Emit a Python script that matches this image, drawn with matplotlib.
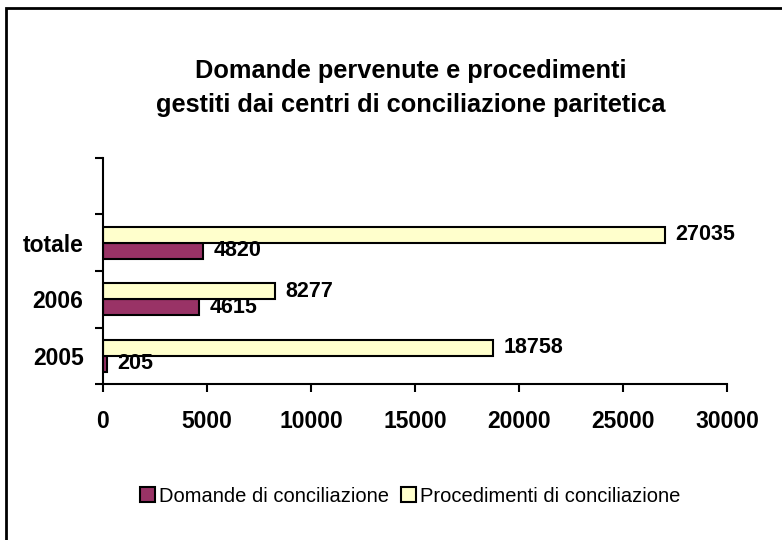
import matplotlib
matplotlib.use("Agg")
import matplotlib.pyplot as plt
from matplotlib.patches import Rectangle
import numpy as np

categories = ["2005", "2006", "totale", ""]
domande = [205, 4615, 4820]
procedimenti = [18758, 8277, 27035]
series_names = ["Domande di conciliazione", "Procedimenti di conciliazione"]
xticks = [0, 5000, 10000, 15000, 20000, 25000, 30000]

plt.rcParams['font.family'] = ['Liberation Sans', 'DejaVu Sans']

W, H = 782, 540
fig = plt.figure(figsize=(W / 100, H / 100), dpi=100)
fig.patch.set_facecolor("white")

# figure frame (open at right and bottom like the reference)
fig.add_artist(Rectangle((6 / W, -0.1), 1.2, 1 - 8 / H + 0.1, transform=fig.transFigure,
                         fill=False, edgecolor="black", linewidth=2))

ax = fig.add_axes([103 / W, 1 - 384 / H, (727 - 103) / W, (384 - 158) / H])

n = len(domande)
y = np.arange(n)
h = 0.285
ax.barh(y - h / 2, domande, height=h, color="#993366", edgecolor="black", linewidth=1.5,
        label=series_names[0])
ax.barh(y + h / 2, procedimenti, height=h, color="#FFFFCC", edgecolor="black", linewidth=1.5,
        label=series_names[1])

for i in range(n):
    ax.text(domande[i] + 500, y[i] - h / 2, str(domande[i]), va="center", ha="left",
            fontsize=15.5, fontweight="bold")
    ax.text(procedimenti[i] + 500, y[i] + h / 2, str(procedimenti[i]), va="center", ha="left",
            fontsize=15.5, fontweight="bold")

ax.set_xlim(0, 30000)
ax.set_ylim(-0.5, len(categories) - 0.5)
ax.set_xticks(xticks)
ax.set_xticklabels([str(v) for v in xticks], fontsize=16.5, fontweight="bold")
ax.set_yticks(np.arange(len(categories)))
ax.set_yticklabels(categories, fontsize=16.5, fontweight="bold")
ax.tick_params(axis="y", length=0, pad=14)
ax.set_yticks(np.arange(len(categories) + 1) - 0.5, minor=True)
ax.tick_params(axis="y", which="minor", length=6, width=1.5, direction="out")
ax.tick_params(axis="x", length=6, width=1.5, direction="out", pad=13)

for s in ["top", "right"]:
    ax.spines[s].set_visible(False)
for s in ["left", "bottom"]:
    ax.spines[s].set_linewidth(1.5)

fig.text(411 / W, 1 - 88 / H, "Domande pervenute e procedimenti\ngestiti dai centri di conciliazione paritetica",
         ha="center", va="center", fontsize=18.3, fontweight="bold", linespacing=1.55)

leg = fig.legend(loc="center", bbox_to_anchor=(410 / W, 1 - 496 / H), ncol=2, frameon=False,
                 fontsize=14.5, handlelength=0.75, handleheight=0.75, handletextpad=0.2,
                 columnspacing=0.6)

fig.savefig("out.png", dpi=100)
